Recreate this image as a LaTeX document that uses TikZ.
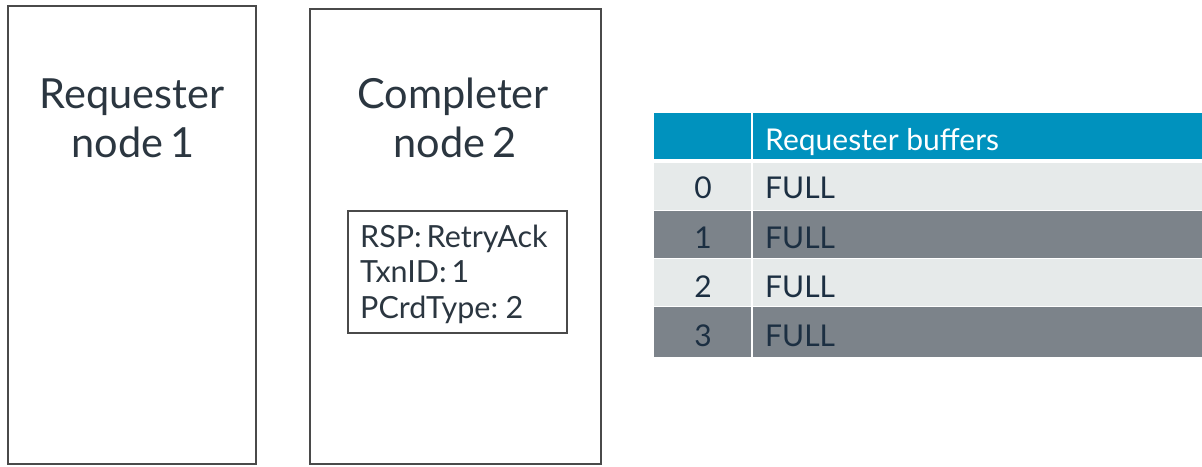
\documentclass[tikz,border=0pt]{standalone}
\usepackage{fontspec}
\setmainfont{Lato}
\definecolor{frame}{HTML}{4A4A4A}
\definecolor{ink}{HTML}{2B3640}
\definecolor{head}{HTML}{0092BE}
\definecolor{rowlight}{HTML}{E6EAEA}
\definecolor{rowdark}{HTML}{7C838A}
\definecolor{cellink}{HTML}{1C2F42}
\newcommand{\msgfont}{\fontsize{30.5}{35.5}\selectfont\spaceskip=0.16em\relax}
\newcommand{\titlefont}{\fontsize{41.5}{49}\selectfont\spaceskip=0.16em\relax}
\tikzset{
  x=1pt, y=-1pt,
  nodebox/.style={draw=frame, line width=1.8pt},
  title/.style={align=center, text=ink, font=\titlefont, inner sep=0pt, anchor=base},
  msgbox/.style={draw=frame, line width=1.5pt},
  msgtext/.style={align=left, text=ink, font=\msgfont, inner sep=0pt, anchor=base west},
  cell/.style={text=cellink, font=\fontsize{30}{34}\selectfont, inner sep=0pt, anchor=base},
  headtext/.style={text=white, font=\fontsize{30}{34}\selectfont, inner sep=0pt, anchor=base west},
}
\begin{document}
\begin{tikzpicture}
\useasboundingbox (0,0) rectangle (1202,466);
\fill[white] (0,0) rectangle (1202,466);

% requester and completer outlines
\draw[nodebox] (8,6) rectangle (256,464);
\draw[nodebox] (310,9) rectangle (601,464);
\node[title] (req) at (132,108) {Requester};
\node[title] (req2) at (133,157) {node 1};
\node[title] (comp) at (453,108) {Completer};
\node[title] (comp2) at (455,157) {node 2};

% retry acknowledgement message
\draw[msgbox] (348,211) rectangle (567,333);
\node[msgtext] (msg1) at (360,247) {RSP: RetryAck};
\node[msgtext] (msg2) at (360,282.5) {TxnID: 1};
\node[msgtext] (msg3) at (360,318) {PCrdType: 2};

% buffer table
\fill[head] (654,113) rectangle (1202,159);
\fill[rowlight] (654,163) rectangle (1202,210);
\fill[rowdark] (654,211) rectangle (1202,258);
\fill[rowlight] (654,259) rectangle (1202,306);
\fill[rowdark] (654,307) rectangle (1202,357);
\draw[white, line width=1.5pt] (752,113) -- (752,357);
\node[headtext] (hdr) at (765,150) {Requester buffers};
\foreach \i/\y in {0/198,1/248,2/297,3/346}{
  \node[cell] (n\i) at (703,\y) {\i};
  \node[cell, anchor=base west] (f\i) at (765,\y) {FULL};
}
\end{tikzpicture}
\end{document}
